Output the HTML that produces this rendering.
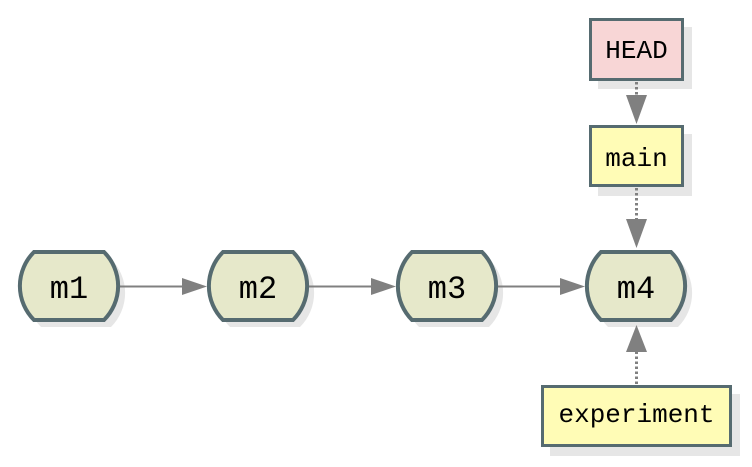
<!DOCTYPE html>
<html><head><meta charset="utf-8"><style>
html,body{margin:0;padding:0;background:#fff;}
svg{display:block;}
text{font-family:"Liberation Mono","DejaVu Sans Mono",monospace;fill:#000;}
</style></head><body>
<svg width="752" height="467" viewBox="0 0 752 467" xmlns="http://www.w3.org/2000/svg">
  <defs>
    <path id="cnode" d="M -35 -34 L 35 -34 A 48 48 0 0 1 35 34 L -35 34 A 48 48 0 0 1 -35 -34 Z"/>
  </defs>
  <!-- shadows -->
  <g fill="#e6e6e6">
    <use href="#cnode" transform="translate(76,293)"/>
    <use href="#cnode" transform="translate(265,293)"/>
    <use href="#cnode" transform="translate(454,293)"/>
    <use href="#cnode" transform="translate(643,293)"/>
    <rect x="598" y="27" width="94" height="62"/>
    <rect x="598" y="134" width="94" height="62"/>
    <rect x="550" y="394" width="190" height="62"/>
  </g>
  <!-- edges horizontal -->
  <g stroke="#808080" stroke-width="2" fill="#808080">
    <line x1="120" y1="286.5" x2="184" y2="286.5"/>
    <polygon points="182,278 207,286.5 182,295" stroke="none"/>
    <line x1="309" y1="286.5" x2="373" y2="286.5"/>
    <polygon points="371,278 396,286.5 371,295" stroke="none"/>
    <line x1="498" y1="286.5" x2="562" y2="286.5"/>
    <polygon points="560,278 585,286.5 560,295" stroke="none"/>
  </g>
  <!-- vertical dotted -->
  <g stroke="#808080" stroke-width="3" stroke-dasharray="2.5 2.5" fill="none">
    <line x1="636.5" y1="82" x2="636.5" y2="96"/>
    <line x1="636.5" y1="188" x2="636.5" y2="220"/>
    <line x1="636.5" y1="384" x2="636.5" y2="352"/>
  </g>
  <g fill="#808080">
    <polygon points="626,95 647,95 636.5,124"/>
    <polygon points="626,219 647,219 636.5,248"/>
    <polygon points="626,352 647,352 636.5,325"/>
  </g>
  <!-- commit nodes -->
  <g fill="#e6e8ca" stroke="#566b70" stroke-width="4">
    <use href="#cnode" transform="translate(69,286)"/>
    <use href="#cnode" transform="translate(258,286)"/>
    <use href="#cnode" transform="translate(447,286)"/>
    <use href="#cnode" transform="translate(636,286)"/>
  </g>
  <g font-size="32" text-anchor="middle">
    <text x="69" y="298">m1</text>
    <text x="258" y="298">m2</text>
    <text x="447" y="298">m3</text>
    <text x="636" y="298">m4</text>
  </g>
  <!-- ref boxes -->
  <g stroke="#566b70" stroke-width="3">
    <rect x="590.5" y="19.5" width="92" height="60" fill="#f8d6d6"/>
    <rect x="590.5" y="126.5" width="92" height="59" fill="#fffcb6"/>
    <rect x="542.5" y="386.5" width="188" height="59" fill="#fffcb6"/>
  </g>
  <g font-size="26" text-anchor="middle">
    <text x="636.5" y="58">HEAD</text>
    <text x="636.5" y="166">main</text>
    <text x="636.5" y="422">experiment</text>
  </g>
</svg>
</body></html>
